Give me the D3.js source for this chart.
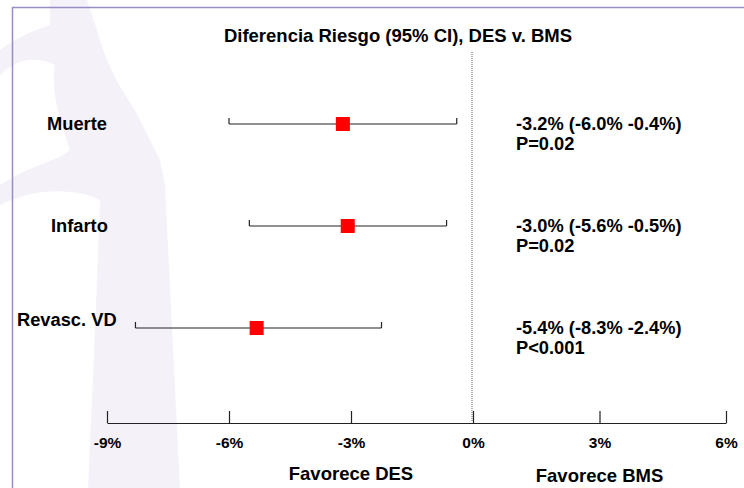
<!DOCTYPE html>
<html>
<head>
<meta charset="utf-8">
<script src="https://cdn.jsdelivr.net/npm/d3@7"></script>
<style>
  body { margin: 0; background: #fff; }
  text { font-family: "Liberation Sans", Arial, sans-serif; font-weight: bold; fill: #000; }
</style>
</head>
<body>
<script>
// outcomes and risk differences (DES - BMS), in %
var categories = ["Muerte", "Infarto", "Revasc. VD"];
var estimate = [-3.2, -3.08, -5.32];
var ciLow = [-6.0, -5.5, -8.3];
var ciHigh = [-0.4, -0.65, -2.25];
var resultText = ["-3.2% (-6.0% -0.4%)", "-3.0% (-5.6% -0.5%)", "-5.4% (-8.3% -2.4%)"];
var pText = ["P=0.02", "P=0.02", "P<0.001"];
var tickValues = [-9, -6, -3, 0, 3, 6];
var sideLabels = ["Favorece DES", "Favorece BMS"];
var sideAt = [-3, 3];

// label layout (left column isn't aligned in the original)
var labelX = [47, 51, 17];
var labelDy = [0, 0, -8];

var width = 744, height = 488;

var svg = d3.select("body").append("svg")
    .attr("width", width)
    .attr("height", height);

svg.append("rect").attr("width", width).attr("height", height).attr("fill", "#fff");

// faint watermark in the background
svg.append("path")
    .attr("d", "M50,0 L87,0 L97,30 C105,60 115,80 135,110 L160,160 L165,185 L180,488 L88,488 L95,330 L100,200 " +
               "C80,190 40,185 0,205 L0,185 C30,165 60,160 70,150 C60,120 50,90 55,65 C35,55 15,60 0,75 L0,50 C15,38 35,30 50,25 Z")
    .attr("fill", "#f4f2f8");

// frame
svg.append("rect")
    .attr("x", 12.5).attr("y", 7.5)
    .attr("width", 800).attr("height", 600)
    .attr("fill", "none")
    .attr("stroke", "#9a8cc6")
    .attr("stroke-width", 1.5);

var x = d3.scaleLinear().domain([-9, 0, 6]).range([107, 473, 726]);
var y = d3.scalePoint().domain(categories).range([124, 328]);

svg.append("text")
    .attr("x", 398).attr("y", 42)
    .attr("text-anchor", "middle")
    .style("font-size", "18.5px")
    .text("Diferencia Riesgo (95% CI), DES v. BMS");

// zero line
svg.append("line")
    .attr("x1", x(0) - 1).attr("x2", x(0) - 1)
    .attr("y1", 52).attr("y2", 422)
    .attr("stroke", "#666")
    .attr("stroke-width", 1)
    .attr("stroke-dasharray", "1,1");

// axis
var axis = d3.axisBottom(x)
    .tickValues(tickValues)
    .tickSizeInner(-12)
    .tickSizeOuter(0)
    .tickPadding(14)
    .tickFormat(function(d) { return d + "%"; });

var gx = svg.append("g")
    .attr("transform", "translate(0,423)")
    .call(axis);
gx.attr("font-family", null).attr("font-size", null);
gx.select(".domain").attr("stroke", "#222").attr("stroke-width", 1.2);
gx.selectAll(".tick line").attr("stroke", "#222").attr("stroke-width", 1.2);
gx.selectAll(".tick text").style("font-size", "15.5px").attr("fill", "#000");

svg.selectAll(".side")
    .data(sideLabels)
    .enter().append("text")
    .attr("class", "side")
    .attr("x", function(d, i) { return x(sideAt[i]); })
    .attr("y", function(d, i) { return 480 + i * 2; })
    .attr("text-anchor", "middle")
    .style("font-size", "18.5px")
    .text(function(d) { return d; });

// rows
var rows = svg.selectAll(".row")
    .data(categories)
    .enter().append("g")
    .attr("class", "row");

rows.append("text")
    .attr("x", function(d, i) { return labelX[i]; })
    .attr("y", function(d, i) { return y(d) + 6 + labelDy[i]; })
    .style("font-size", "18.3px")
    .text(function(d) { return d; });

rows.append("line")
    .attr("x1", function(d, i) { return x(ciLow[i]); })
    .attr("x2", function(d, i) { return x(ciHigh[i]); })
    .attr("y1", function(d) { return y(d); })
    .attr("y2", function(d) { return y(d); })
    .attr("stroke", "#222")
    .attr("stroke-width", 1.2);

rows.each(function(d, i) {
    var g = d3.select(this);
    [ciLow[i], ciHigh[i]].forEach(function(v) {
        g.append("line")
            .attr("x1", x(v)).attr("x2", x(v))
            .attr("y1", y(d) - 6).attr("y2", y(d))
            .attr("stroke", "#222")
            .attr("stroke-width", 1.2);
    });
});

rows.append("rect")
    .attr("x", function(d, i) { return x(estimate[i]) - 7; })
    .attr("y", function(d) { return y(d) - 7; })
    .attr("width", 14)
    .attr("height", 14)
    .attr("fill", "#ff0000");

rows.append("text")
    .attr("x", 516)
    .attr("y", function(d) { return y(d) + 6; })
    .style("font-size", "18.3px")
    .text(function(d, i) { return resultText[i]; });

rows.append("text")
    .attr("x", 516)
    .attr("y", function(d) { return y(d) + 26; })
    .style("font-size", "18.3px")
    .text(function(d, i) { return pText[i]; });
</script>
</body>
</html>
